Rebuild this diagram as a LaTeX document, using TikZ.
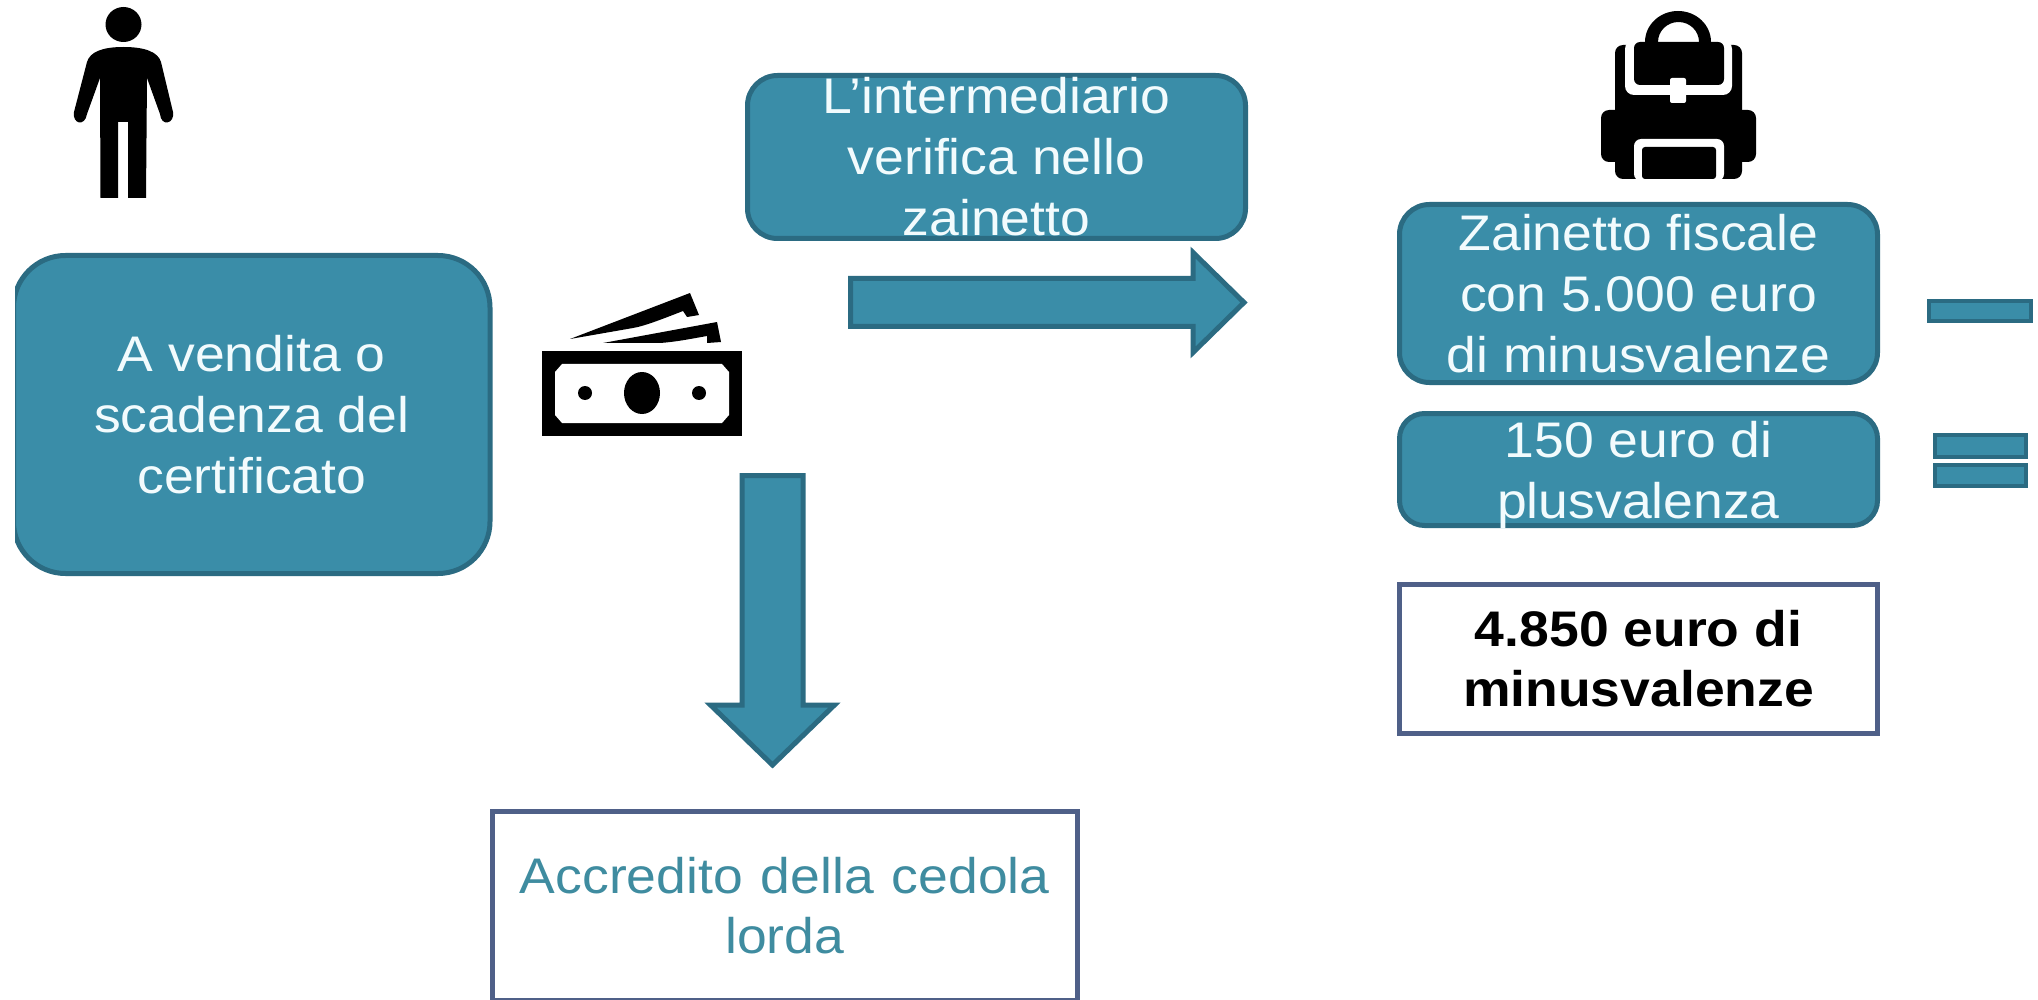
\documentclass[tikz,border=0pt]{standalone}
\usepackage{fontspec}
\setmainfont[FakeStretch=1.07]{Liberation Sans}
\usetikzlibrary{calc}
\definecolor{tealfill}{HTML}{3A8DA8}
\definecolor{tealline}{HTML}{2B6B82}
\definecolor{slateline}{HTML}{4F6088}
\definecolor{paletext}{HTML}{F2FBFD}
\definecolor{tealtext}{HTML}{3F8CA0}
\tikzset{
  tealbox/.style={draw=tealline,fill=tealfill,line width=5pt,inner sep=0pt,align=center,text=paletext,font=\fontsize{50}{61}\selectfont},
  whitebox/.style={draw=slateline,fill=white,line width=5pt,inner sep=0pt,align=center,font=\fontsize{50}{60}\selectfont},
  barbox/.style={draw=tealline,fill=tealfill,line width=4pt,inner sep=0pt},
  blockarrow/.style={draw=tealline,fill=tealfill,line width=5pt,miter limit=10},
  icon/.style={fill=black,draw=none}
}
\begin{document}
\begin{tikzpicture}[x=1pt,y=-1pt]
\useasboundingbox (0,0) rectangle (2038,1000);
\fill[white] (0,0) rectangle (2038,1000);

% boxes
\node[tealbox,rounded corners=52pt,minimum width=476.5pt,minimum height=318pt] (sale) at (251.75,414.5) {A vendita o\\scadenza del\\certificato};
\fill[white] (0,245) rectangle (15,585);
\node[tealbox,rounded corners=30pt,minimum width=498pt,minimum height=163pt] (broker) at (996.5,157) {L’intermediario\\verifica nello\\zainetto};
\node[tealbox,rounded corners=30pt,minimum width=478pt,minimum height=178pt] (pack) at (1638.5,293.5) {Zainetto fiscale\\con 5.000 euro\\di minusvalenze};
\node[tealbox,rounded corners=25pt,minimum width=478pt,minimum height=112pt] (gain) at (1638.5,469.5) {\raisebox{-12.5pt}[0pt][0pt]{\begin{tabular}{@{}c@{}}150 euro di\\plusvalenza\end{tabular}}};
\node[whitebox,minimum width=478pt,minimum height=149pt] (result) at (1638.5,659) {\bfseries 4.850 euro di\\\bfseries minusvalenze};
\node[whitebox,minimum width=585.5pt,minimum height=188.5pt,text=tealtext] (credit) at (784.75,905.75) {\spaceskip=18pt Accredito della cedola\\lorda};

% operators
\node[barbox,minimum width=102pt,minimum height=20pt] (minus) at (1980,311) {};
\node[barbox,minimum width=91pt,minimum height=22pt] (eqtop) at (1980.5,446) {};
\node[barbox,minimum width=91pt,minimum height=21pt] (eqbottom) at (1980.5,475.5) {};

% block arrows
\coordinate (rtail) at (850.5,302.5);
\coordinate (rtip) at (1244,302.5);
\draw[blockarrow] ($(rtail)+(0,-24)$) -- ($(rtail)+(342.5,-24)$) -- ($(rtail)+(342.5,-50)$) -- (rtip) -- ($(rtail)+(342.5,50)$) -- ($(rtail)+(342.5,24)$) -- ($(rtail)+(0,24)$) -- cycle;
\coordinate (dtail) at (772.5,475.5);
\coordinate (dtip) at (772.5,765);
\draw[blockarrow] ($(dtail)+(-30.5,0)$) -- ($(dtail)+(-30.5,229.5)$) -- ($(dtail)+(-62,229.5)$) -- (dtip) -- ($(dtail)+(62,229.5)$) -- ($(dtail)+(30.5,229.5)$) -- ($(dtail)+(30.5,0)$) -- cycle;

% person
\fill[icon] (123.5,24.5) ellipse [x radius=18,y radius=17.5];
\fill[icon] (123.5,47) .. controls (145,47) and (158,52) .. (161,62) -- (173,112) .. controls (175,124) and (161,127) .. (160,114) -- (147,78) -- (146,198) -- (128,198) -- (128,122) -- (118,122) -- (118,198) -- (100.5,198) -- (100,78) -- (87,114) .. controls (85,127) and (72,124) .. (74,112) -- (87,62) .. controls (90,52) and (102,47) .. (123.5,47) -- cycle;

% money
\fill[icon] (542,351) rectangle (742,436);
\fill[white] (562,364) -- (722,364) -- (729,372) -- (729,415) -- (722,423) -- (562,423) -- (555,415) -- (555,372) -- cycle;
\fill[icon] (642,393) ellipse [x radius=18,y radius=21];
\fill[icon] (585,393) circle (7);
\fill[icon] (699,393) circle (7);
\fill[icon] (570,339) -- (690,293) -- (699,315) -- (687,317) -- (683,311) .. controls (665,318) and (645,326) .. (633,328) -- cycle;
\fill[icon] (603,343) -- (717,322) -- (721,342) -- (707,343) -- (707,336) .. controls (690,339) and (675,342) .. (660,343) -- cycle;

% backpack
\fill[icon,rounded corners=8pt] (1615,179) -- (1615,45) -- (1742,45) -- (1742,179) -- cycle;
\fill[icon,rounded corners=8pt] (1601,110) rectangle (1756,162);
\fill[white,rounded corners=9pt] (1625,40) rectangle (1732,95);
\fill[icon] (1645,46) -- (1645,42) arc[start angle=180,end angle=360,x radius=33,y radius=31] -- (1711,46) -- (1699,46) -- (1699,42) arc[start angle=360,end angle=180,x radius=20.5,y radius=20] -- (1658,46) -- cycle;
\fill[icon,rounded corners=6pt] (1634,42) -- (1724,42) -- (1724,85) -- (1634,85) -- cycle;
\fill[white,rounded corners=2pt] (1670,78) rectangle (1686,103);
\fill[white,rounded corners=7pt] (1634,181) -- (1634,139) -- (1724,139) -- (1724,181) -- cycle;
\fill[icon,rounded corners=3pt] (1642,179) -- (1642,147) -- (1716,147) -- (1716,179) -- cycle;
\end{tikzpicture}
\end{document}
